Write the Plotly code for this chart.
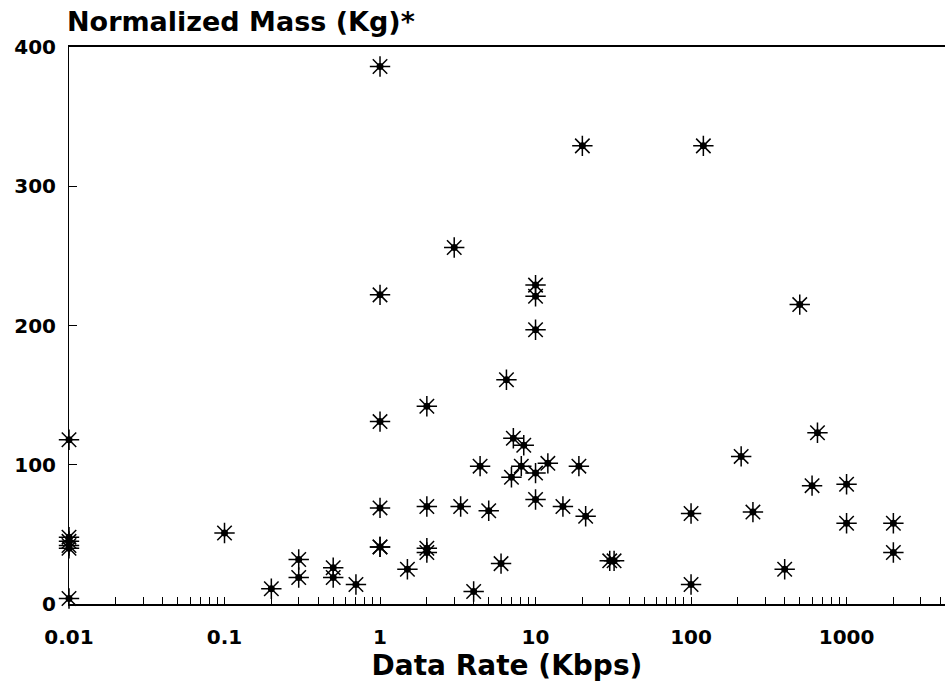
import plotly.graph_objects as go

# Data Rate (Kbps) and Normalized Mass (Kg)
data_rate = [0.01, 0.01, 0.01, 0.01, 0.01, 0.01,
             0.1, 0.2, 0.3, 0.3, 0.5, 0.5, 0.7,
             1, 1, 1, 1, 1, 1, 1.5,
             2, 2, 2, 2, 3, 3.3, 4, 4.4, 5, 6, 6.5, 7, 7.2, 8.1, 8.4,
             10, 10, 10, 10, 10, 12, 15, 19, 20, 21, 30, 32,
             100, 100, 120, 210, 250, 400, 500, 600, 650, 1000, 1000, 2000, 2000]
mass = [118, 48, 45, 42, 40, 4,
        51, 11, 32, 19, 26, 19, 14,
        386, 222, 131, 69, 41, 41, 25,
        142, 70, 40, 37, 256, 70, 9, 99, 67, 29, 161, 91, 119, 99, 114,
        229, 221, 197, 94, 75, 101, 70, 99, 329, 63, 31, 31,
        65, 14, 329, 106, 66, 25, 215, 85, 123, 86, 58, 58, 37]

x_tickvals = [0.01, 0.1, 1, 10, 100, 1000]
x_ticktext = ["0.01", "0.1", "1", "10", "100", "1000"]
y_tickvals = [0, 100, 200, 300, 400]

FONT = "DejaVu Sans"

fig = go.Figure()
fig.add_trace(go.Scatter(
    x=data_rate, y=mass, mode="markers", cliponaxis=False,
    marker=dict(symbol="asterisk-open", size=17, color="black",
                line=dict(color="black", width=1.5)),
    hoverinfo="skip", showlegend=False))
fig.add_trace(go.Scatter(
    x=data_rate, y=mass, mode="markers", cliponaxis=False,
    marker=dict(symbol="circle", size=7, color="black"),
    showlegend=False))

fig.update_layout(
    width=945, height=689,
    margin=dict(l=69, r=0, t=47, b=85),
    plot_bgcolor="white", paper_bgcolor="white",
    font=dict(family=FONT, color="black"),
    title=dict(text="Normalized Mass (Kg)*", x=67 / 945, xanchor="left",
               y=1 - 22 / 689, yanchor="middle",
               font=dict(family=FONT, size=27, weight="bold", color="black")),
)
fig.update_xaxes(
    type="log", range=[-2, 3.633], automargin=False,
    tickvals=x_tickvals, ticktext=x_ticktext,
    tickfont=dict(family=FONT, size=20, weight="bold"),
    ticks="inside", ticklen=7, tickcolor="black", tickwidth=1,
    ticklabelstandoff=14,
    showgrid=False, zeroline=False,
    showline=True, linecolor="black", linewidth=1.5, mirror=True,
    minor=dict(ticks="inside", dtick="D1", ticklen=7, tickcolor="black",
               tickwidth=1, showgrid=False),
    title=dict(text="Data Rate (Kbps)", standoff=6,
               font=dict(family=FONT, size=28, weight="bold")),
)
fig.update_yaxes(
    range=[0, 400], tickvals=y_tickvals, automargin=False,
    tickfont=dict(family=FONT, size=20, weight="bold"),
    ticks="inside", ticklen=8, tickcolor="black",
    ticklabelstandoff=8,
    showgrid=False, zeroline=False,
    showline=True, linecolor="black", linewidth=1,
)

fig.write_html(
    "out.html",
    config={"displayModeBar": False},
    post_script="document.body.style.margin='0';document.body.style.overflow='hidden';",
)
